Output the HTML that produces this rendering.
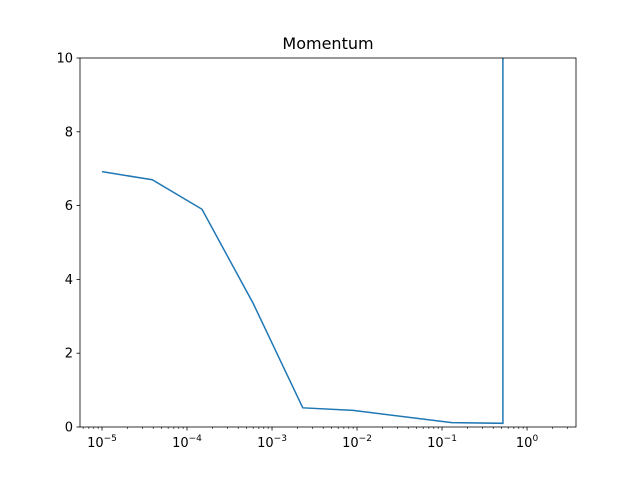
<!DOCTYPE html>
<html><head><meta charset="utf-8"><style>body{margin:0;background:#fff}svg{display:block}</style></head>
<body>
<svg id="chart" width="640" height="480" xmlns="http://www.w3.org/2000/svg" font-family="'DejaVu Sans', 'Liberation Sans', sans-serif">
<rect width="640" height="480" fill="#fff"/>
<text x="328" y="49" text-anchor="middle" font-size="16">Momentum</text>
<defs><clipPath id="clip"><rect x="80" y="58" width="496" height="369"/></clipPath></defs>
<g id="axes"></g>
</svg>
<script>
const xValues = [1e-5, 3.9e-5, 1.5e-4, 6e-4, 2.3e-3, 9e-3, 0.13, 0.52, 0.52];
const yValues = [6.92, 6.7, 5.9, 3.35, 0.52, 0.45, 0.12, 0.1, 1000];
const yTicks = [0, 2, 4, 6, 8, 10];
const xTickExps = [-5, -4, -3, -2, -1, 0];

const L=80,R=576,T=58,B=427;
const lxMin=-5.259, lxMax=0.576;
const X=v=>L+(Math.log10(v)-lxMin)/(lxMax-lxMin)*(R-L);
const Y=v=>B-(v-0)/(10-0)*(B-T);
const NS='http://www.w3.org/2000/svg';
const g=document.getElementById('axes');
function mk(t,a){const e=document.createElementNS(NS,t);for(const k in a)e.setAttribute(k,a[k]);g.appendChild(e);return e;}

const line=mk('polyline',{points:xValues.map((x,i)=>X(x)+','+Y(yValues[i])).join(' '),fill:'none',stroke:'#1f77b4','stroke-width':1.5,'clip-path':'url(#clip)'});



yTicks.forEach(v=>{
  const t=mk('line',{x1:L-3.5,x2:L,y1:Y(v),y2:Y(v),stroke:'#000','stroke-width':0.8});
  
  
  const l=mk('text',{x:L-7,y:Y(v)+4.5,'text-anchor':'end','font-size':13});
  l.textContent=v;
  
  
});
for(let e=-6;e<=0;e++){for(let m=2;m<=9;m++){const v=m*Math.pow(10,e);const x=X(v);if(x<L||x>R)continue;
  const t=mk('line',{x1:x,x2:x,y1:B,y2:B+2,stroke:'#000','stroke-width':0.6});
  
  }}
xTickExps.forEach(e=>{
  const x=X(Math.pow(10,e));
  const t=mk('line',{x1:x,x2:x,y1:B,y2:B+3.5,stroke:'#000','stroke-width':0.8});
  
  
  const l=mk('text',{x:x,y:B+20,'text-anchor':'middle','font-size':13});
  l.innerHTML='10<tspan dy="-6" font-size="9">'+(e<0?'\u2212'+(-e):e)+'</tspan>';
  
  
});
const fr=mk('rect',{x:L,y:T,width:R-L,height:B-T,fill:'none',stroke:'#000','stroke-width':0.8});


</script>
</body></html>
